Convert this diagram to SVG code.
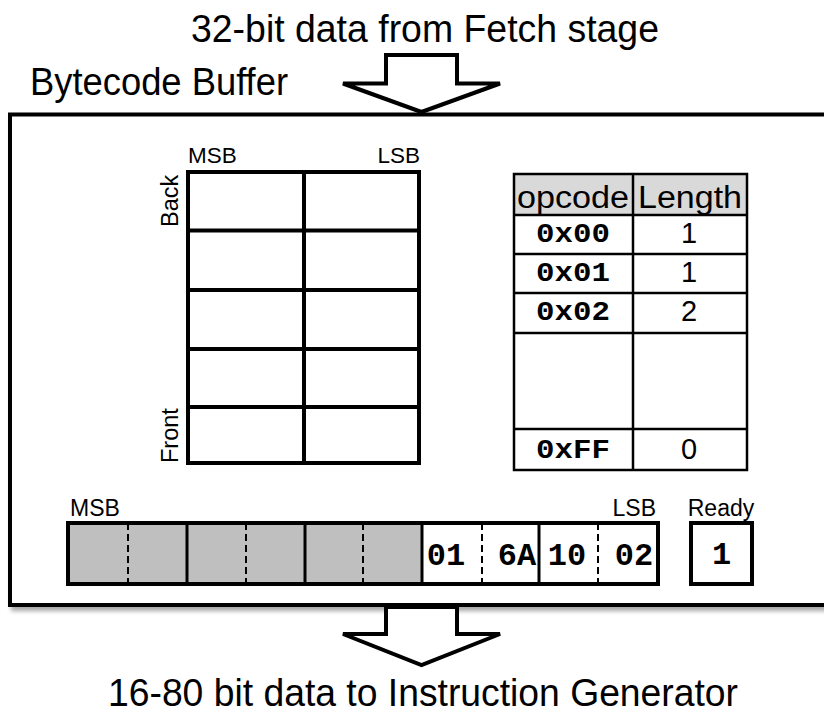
<svg xmlns="http://www.w3.org/2000/svg" width="824" height="713" viewBox="0 0 824 713">
<defs>
<filter id="shadow" x="-5%" y="-5%" width="115%" height="115%">
<feGaussianBlur in="SourceAlpha" stdDeviation="2"/>
<feOffset dx="3" dy="4" result="b"/>
<feComponentTransfer><feFuncA type="linear" slope="0.35"/></feComponentTransfer>
<feMerge><feMergeNode/><feMergeNode in="SourceGraphic"/></feMerge>
</filter>
</defs>
<style>
.sans{font-family:"Liberation Sans",Arial,Helvetica,sans-serif;fill:#000}
.mono{font-family:"Liberation Mono","Courier New",monospace;font-weight:bold;fill:#000}
.thick{fill:none;stroke:#000;stroke-width:4}
.grid{fill:none;stroke:#000;stroke-width:4}
.tbl{fill:none;stroke:#000;stroke-width:2.5}
.dash{stroke:#000;stroke-width:2;stroke-dasharray:7,4}
.div{stroke:#000;stroke-width:3}
.arrow{fill:#fff;stroke:#000;stroke-width:4;stroke-linejoin:miter}
</style>
<rect width="824" height="713" fill="#fff"/>

<g id="title">
<text class="sans" x="425" y="42" font-size="38" text-anchor="middle" textLength="468" lengthAdjust="spacingAndGlyphs">32-bit data from Fetch stage</text>
</g>
<g id="buffer-label">
<text class="sans" x="30" y="95" font-size="38" textLength="258" lengthAdjust="spacingAndGlyphs">Bytecode Buffer</text>
</g>

<g id="buffer">
<rect x="10" y="114.5" width="830" height="490.5" fill="#fff" stroke="#000" stroke-width="4" filter="url(#shadow)"/>
</g>

<g id="connectors">
<polygon class="arrow" points="386,55 457,55 457,83.5 500,83.5 421.5,112 343,83.5 386,83.5"/>
<polygon class="arrow" points="386,607 457,607 457,634 500,634 421.5,665 343,634 386,634"/>
</g>

<g id="queue">
<text class="sans" x="188" y="163" font-size="22.5">MSB</text>
<text class="sans" x="420" y="163" font-size="22.5" text-anchor="end">LSB</text>
<text class="sans" font-size="23.5" transform="translate(178,227) rotate(-90)">Back</text>
<text class="sans" font-size="23.5" transform="translate(178,463) rotate(-90)">Front</text>
<rect class="grid" x="188" y="172" width="231" height="291"/>
<line class="grid" x1="304" y1="172" x2="304" y2="463"/>
<line class="grid" x1="188" y1="230.5" x2="419" y2="230.5"/>
<line class="grid" x1="188" y1="290" x2="419" y2="290"/>
<line class="grid" x1="188" y1="349" x2="419" y2="349"/>
<line class="grid" x1="188" y1="407" x2="419" y2="407"/>
</g>

<g id="length-table">
<rect x="514" y="174" width="233" height="41" fill="#d9d9d9"/>
<rect class="tbl" x="514" y="174" width="233" height="296"/>
<line class="tbl" x1="633" y1="174" x2="633" y2="470"/>
<line class="tbl" x1="514" y1="215" x2="747" y2="215"/>
<line class="tbl" x1="514" y1="254" x2="747" y2="254"/>
<line class="tbl" x1="514" y1="293" x2="747" y2="293"/>
<line class="tbl" x1="514" y1="333" x2="747" y2="333"/>
<line class="tbl" x1="514" y1="429" x2="747" y2="429"/>
<text class="sans" x="573" y="208" font-size="31" text-anchor="middle" textLength="112" lengthAdjust="spacingAndGlyphs">opcode</text>
<text class="sans" x="690" y="208" font-size="31" text-anchor="middle" textLength="104" lengthAdjust="spacingAndGlyphs">Length</text>
<text class="mono" x="573" y="242" font-size="27" text-anchor="middle" textLength="74" lengthAdjust="spacingAndGlyphs">0x00</text>
<text class="mono" x="573" y="281" font-size="27" text-anchor="middle" textLength="74" lengthAdjust="spacingAndGlyphs">0x01</text>
<text class="mono" x="573" y="320" font-size="27" text-anchor="middle" textLength="74" lengthAdjust="spacingAndGlyphs">0x02</text>
<text class="mono" x="573" y="458" font-size="27" text-anchor="middle" textLength="74" lengthAdjust="spacingAndGlyphs">0xFF</text>
<text class="sans" x="689" y="243" font-size="29" text-anchor="middle">1</text>
<text class="sans" x="689" y="282" font-size="29" text-anchor="middle">1</text>
<text class="sans" x="689" y="321" font-size="29" text-anchor="middle">2</text>
<text class="sans" x="689" y="459" font-size="29" text-anchor="middle">0</text>
</g>

<g id="output-register">
<text class="sans" x="70" y="516" font-size="23">MSB</text>
<text class="sans" x="656" y="516" font-size="23" text-anchor="end">LSB</text>
<rect x="68" y="523" width="354" height="61" fill="#bfbfbf"/>
<rect x="422" y="523" width="236" height="61" fill="#fff"/>
<line class="dash" x1="128" y1="523" x2="128" y2="584"/>
<line class="dash" x1="246" y1="523" x2="246" y2="584"/>
<line class="dash" x1="363" y1="523" x2="363" y2="584"/>
<line class="dash" x1="482" y1="523" x2="482" y2="584"/>
<line class="dash" x1="598" y1="523" x2="598" y2="584"/>
<line class="div" x1="187" y1="523" x2="187" y2="584"/>
<line class="div" x1="305" y1="523" x2="305" y2="584"/>
<line class="div" x1="422" y1="523" x2="422" y2="584"/>
<line class="div" x1="539" y1="523" x2="539" y2="584"/>
<rect class="thick" x="68" y="523" width="590" height="61"/>
<text class="mono" x="446" y="565" font-size="32" text-anchor="middle">01</text>
<text class="mono" x="517" y="565" font-size="32" text-anchor="middle">6A</text>
<text class="mono" x="567" y="565" font-size="32" text-anchor="middle">10</text>
<text class="mono" x="634" y="565" font-size="32" text-anchor="middle">02</text>
</g>

<g id="ready">
<text class="sans" x="721" y="516" font-size="23" text-anchor="middle">Ready</text>
<rect class="thick" x="691" y="523" width="61" height="61"/>
<text class="mono" x="721.5" y="564" font-size="32" text-anchor="middle">1</text>
</g>

<g id="footer">
<text class="sans" x="423" y="706" font-size="38" text-anchor="middle" textLength="630" lengthAdjust="spacingAndGlyphs">16-80 bit data to Instruction Generator</text>
</g>
</svg>
